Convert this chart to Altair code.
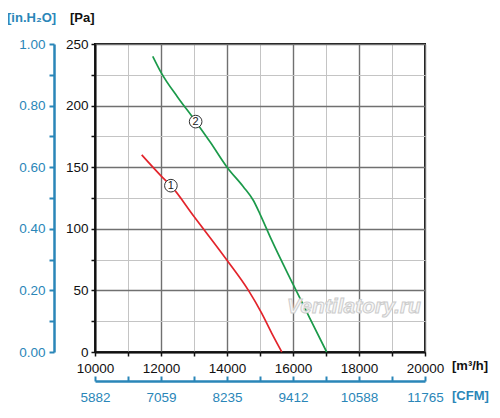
import altair as alt
import pandas as pd

# ---- data ----
green_flow = [11750, 12000, 12500, 13000, 13500, 14000, 14500, 14800, 15000, 15350, 16000, 16500, 17020]
green_pa = [240, 227, 207, 189, 170, 150, 134, 123, 112, 91, 55, 28, 0]
red_flow = [11415, 12000, 12300, 13000, 14000, 14650, 15050, 15350, 15660]
red_pa = [160, 143, 135, 110, 74.5, 50, 31.5, 15.5, 0]

label_names = ["1", "2"]
label_flow = [12300, 13050]
label_pa = [135, 187]

flow_ticks = list(range(10000, 20001, 1000))
flow_labels = list(range(10000, 20001, 2000))
pa_ticks = list(range(0, 251, 25))

FONT = "Liberation Sans"
BLUE = "#2a86b8"
RED = "#e3242b"
GREEN = "#1b9a4a"

X_DOM = [10000, 20000]
Y_DOM = [0, 250]

curves = pd.DataFrame({
    "flow": green_flow + red_flow,
    "pa": green_pa + red_pa,
    "curve": ["2"] * len(green_flow) + ["1"] * len(red_flow),
})
labels_df = pd.DataFrame({"name": label_names, "flow": label_flow, "pa": label_pa})
bounds = pd.DataFrame({"flow": X_DOM, "pa": Y_DOM})

xs = alt.Scale(domain=X_DOM, nice=False, zero=False)
ys = alt.Scale(domain=Y_DOM, nice=False)

grid_color_x = {"condition": {"test": "datum.value % 2000 === 0", "value": "#707070"}, "value": "#c4c4c4"}
grid_color_y = {"condition": {"test": "datum.value % 50 === 0", "value": "#707070"}, "value": "#c4c4c4"}
grid_w_x = {"condition": {"test": "datum.value % 2000 === 0", "value": 1.4}, "value": 1}
grid_w_y = {"condition": {"test": "datum.value % 50 === 0", "value": 1.4}, "value": 1}

lines = alt.Chart(curves).mark_line(strokeWidth=1.7, interpolate="monotone").encode(
    x=alt.X("flow:Q", scale=xs, axis=alt.Axis(
        orient="bottom", values=flow_ticks, title=None,
        labelExpr="datum.value % 2000 === 0 ? datum.label : ''", format="d",
        labelFlush=False, labelOverlap=False,
        tickSize=4, tickColor="#111", tickWidth=1.5, domainColor="#111", domainWidth=2,
        labelColor="#111", labelFont=FONT, labelFontSize=13.5, labelPadding=5,
        grid=True, gridColor=grid_color_x, gridWidth=grid_w_x)),
    y=alt.Y("pa:Q", scale=ys, axis=alt.Axis(
        orient="left", values=pa_ticks, title=None,
        labelExpr="datum.value % 50 === 0 ? datum.label : ''",
        labelFlush=False, labelOverlap=False,
        tickSize=4, tickColor="#111", tickWidth=1.5, domainColor="#111", domainWidth=2,
        labelColor="#111", labelFont=FONT, labelFontSize=13.5, labelPadding=3,
        grid=True, gridColor=grid_color_y, gridWidth=grid_w_y)),
    color=alt.Color("curve:N", scale=alt.Scale(domain=["1", "2"], range=[RED, GREEN]), legend=None),
    detail="curve:N",
)

circles = alt.Chart(labels_df).mark_point(shape="circle", filled=True, fill="white",
                                          stroke="#333", strokeWidth=1, size=160, opacity=1).encode(
    x=alt.X("flow:Q", scale=xs, axis=None),
    y=alt.Y("pa:Q", scale=ys, axis=None),
)
circle_text = alt.Chart(labels_df).mark_text(font=FONT, fontSize=11, color="#222", baseline="middle", dy=0.5).encode(
    x=alt.X("flow:Q", scale=xs, axis=None),
    y=alt.Y("pa:Q", scale=ys, axis=None),
    text="name:N",
)

# in.H2O axis (left, offset) + CFM tick marks
inh2o = alt.Chart(bounds).mark_point(opacity=0).encode(
    x=alt.X("flow:Q", scale=xs, axis=alt.Axis(
        orient="bottom", offset=24, values=flow_ticks, title=None, domain=False,
        labels=False, grid=False, tickSize=5, tickWidth=2, tickColor=BLUE)),
    y=alt.Y("pa:Q", scale=ys, axis=alt.Axis(
        orient="left", offset=41, values=pa_ticks, title=None, grid=False,
        labelExpr="datum.value % 50 === 0 ? format(datum.value / 250, '.2f') : ''",
        labelFlush=False, labelOverlap=False,
        tickSize=5, tickWidth=2, tickColor=BLUE, domainColor=BLUE, domainWidth=2.5,
        labelColor=BLUE, labelFont=FONT, labelFontSize=13.5, labelPadding=4)),
)

# CFM axis line + labels
cfm = alt.Chart(bounds).mark_point(opacity=0).encode(
    x=alt.X("flow:Q", scale=xs, axis=alt.Axis(
        orient="bottom", offset=29, values=flow_labels, title=None, grid=False,
        labelExpr="format(round(datum.value / 1.7), 'd')",
        labelFlush=False, labelOverlap=False,
        ticks=False, domainColor=BLUE, domainWidth=2.5,
        labelColor=BLUE, labelFont=FONT, labelFontSize=13.5, labelPadding=9)),
    y=alt.Y("pa:Q", scale=ys, axis=None),
)


def unit(txt, x, y, color):
    return alt.Chart(pd.DataFrame({"t": [txt]})).mark_text(
        align="left", baseline="middle", fontWeight="bold", fontSize=13, font=FONT, color=color
    ).encode(text="t:N", x=alt.value(x), y=alt.value(y))


watermark = alt.Chart(pd.DataFrame({"t": ["Ventilatory.ru"]})).mark_text(
    font=FONT, fontSize=21, fontStyle="italic", fontWeight="bold",
    fill="#f6f6f6", stroke="#cccccc", strokeWidth=1, align="center", baseline="middle"
).encode(text="t:N", x=alt.value(259), y=alt.value(263))

chart = alt.layer(
    lines, watermark, circles, circle_text, inh2o, cfm,
    unit("[in.H\u2082O]", -88, -26, BLUE),
    unit("[Pa]", -25, -26, "#111"),
    unit("[m\u00b3/h]", 357, 322, "#111"),
    unit("[CFM]", 357, 352, BLUE),
).resolve_axis(x="independent", y="independent").properties(
    width=330, height=308,
    autosize=alt.AutoSizeParams(type="none"),
    padding={"left": 87, "top": 36, "right": 67, "bottom": 58},
    background="white",
).configure_view(stroke="#111", strokeWidth=2)

chart.save("out.html", embed_options={"renderer": "svg", "actions": False})
